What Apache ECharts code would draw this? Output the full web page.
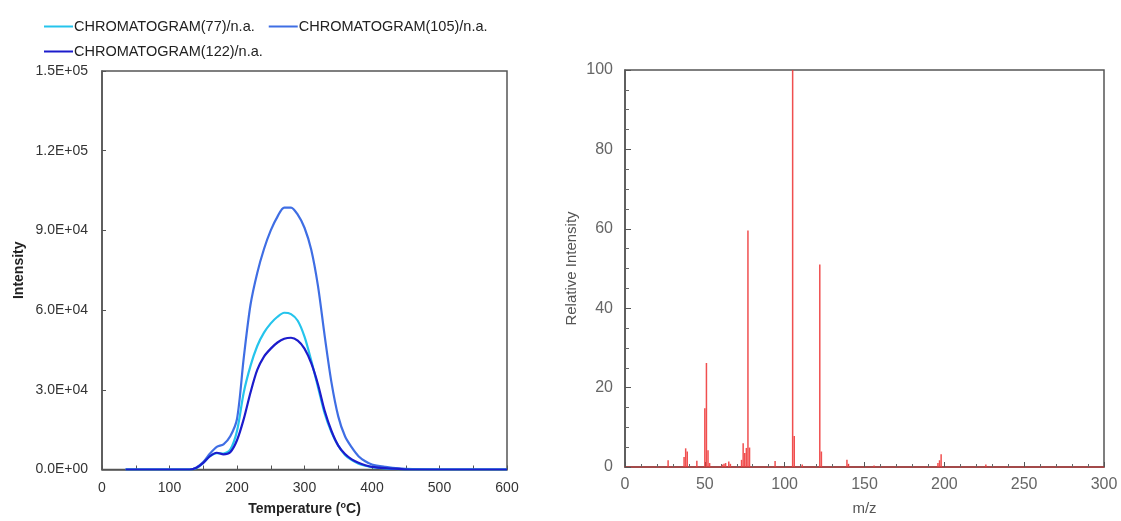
<!DOCTYPE html>
<html>
<head>
<meta charset="utf-8">
<script src="https://cdn.jsdelivr.net/npm/echarts@6/dist/echarts.min.js"></script>
<style>
  html, body { margin: 0; padding: 0; background: #fff; }
  #chart { width: 1121px; height: 521px; }
</style>
</head>
<body>
<div id="chart"></div>
<script>
// chromatogram (temperature in °C)
const temps = [35, 60, 100, 130, 140, 150, 160, 170, 180, 190, 200, 210, 220, 230, 240, 250, 260, 270, 280, 290, 300, 310, 320, 330, 340, 350, 360, 370, 380, 390, 400, 420, 440, 460, 500, 550, 600]
const chrom77 = [0, 0, 0, 0, 600, 2500, 5000, 6200, 6000, 7500, 14500, 29000, 39000, 46500, 51500, 55000, 57500, 59000, 58500, 56000, 50000, 41000, 31000, 21000, 14000, 9000, 5500, 3500, 2200, 1400, 900, 400, 150, 0, 0, 0, 0]
const chrom105 = [0, 0, 0, 0, 800, 2800, 6000, 8500, 9500, 12500, 19000, 42000, 62000, 74000, 83000, 90000, 95200, 98600, 98600, 95900, 91000, 82700, 69000, 50100, 32700, 20000, 12500, 8300, 5000, 3100, 1900, 1000, 400, 150, 0, 0, 0]
const chrom122 = [0, 0, 0, 0, 700, 2500, 5000, 6300, 5700, 6500, 11000, 19000, 29000, 37500, 42500, 45500, 47800, 49200, 49600, 48500, 45500, 40000, 32000, 22000, 14500, 9000, 5800, 3800, 2500, 1600, 1000, 500, 200, 0, 0, 0, 0]

// mass spectrum
const mzValues = [27, 37, 38, 39, 45, 50, 51, 52, 53, 61, 62, 63, 65, 66, 73, 74, 75, 76, 77, 78, 94, 105, 106, 111, 122, 123, 139, 140, 156, 196, 197, 198, 226]
const relIntensity = [1.7, 2.5, 4.7, 3.9, 1.6, 14.8, 26.2, 4.2, 1.0, 0.6, 0.8, 1.0, 1.4, 0.8, 1.8, 6.0, 3.5, 4.8, 59.6, 4.9, 1.5, 100, 7.8, 0.6, 51, 3.9, 1.8, 0.8, 0.4, 1.0, 1.7, 3.2, 0.6]

const seriesNames = ['CHROMATOGRAM(77)/n.a.', 'CHROMATOGRAM(105)/n.a.', 'CHROMATOGRAM(122)/n.a.']
const seriesColors = ['#25c4ec', '#3f6ee4', '#1c1ccc']

function sci(v) {
  const parts = v.toExponential(1).split('e')
  const exp = parts[1]
  return parts[0] + 'E' + exp[0] + exp.slice(1).padStart(2, '0')
}

const chart = echarts.init(document.getElementById('chart'))

const pair = (xs, ys) => xs.map((x, i) => [x, ys[i]])

const legendBase = {
  icon: 'rect',
  itemWidth: 29,
  itemHeight: 2,
  itemGap: 14,
  textStyle: { fontFamily: 'Liberation Sans', fontSize: 14.5, color: '#222', padding: [0, 0, 0, -4] }
}

const option = {
  backgroundColor: '#fff',
  animation: false,
  legend: [
    Object.assign({}, legendBase, { left: 39, top: 14, data: [seriesNames[0], seriesNames[1]] }),
    Object.assign({}, legendBase, { left: 39, top: 39, data: [seriesNames[2]] })
  ],
  grid: [
    { left: 102, right: 614, top: 71, bottom: 51, show: true, borderColor: '#555', borderWidth: 1.5 },
    { left: 625, right: 17, top: 70, bottom: 51, show: true, borderColor: '#555', borderWidth: 1.5 }
  ],
  xAxis: [
    {
      gridIndex: 0,
      type: 'value',
      min: 0,
      max: 600,
      interval: 100,
      name: 'Temperature ({sup|o}C)',
      nameLocation: 'middle',
      nameGap: 32,
      nameTextStyle: {
        fontFamily: 'Liberation Sans', fontSize: 14, fontWeight: 'bold', color: '#222',
        rich: { sup: { fontFamily: 'Liberation Sans', fontSize: 9, fontWeight: 'bold', color: '#222', verticalAlign: 'top', padding: [0, 0, 6, 0] } }
      },
      axisLine: { lineStyle: { color: '#555', width: 1.5 } },
      axisTick: { inside: true, length: 4, lineStyle: { color: '#555' } },
      minorTick: { show: true, splitNumber: 2, length: 4, lineStyle: { color: '#555' } },
      splitLine: { show: false },
      axisLabel: { fontFamily: 'Liberation Sans', fontSize: 14, color: '#333', margin: 12 }
    },
    {
      gridIndex: 1,
      type: 'value',
      min: 0,
      max: 300,
      interval: 50,
      name: 'm/z',
      nameLocation: 'middle',
      nameGap: 34,
      nameTextStyle: { fontFamily: 'Liberation Sans', fontSize: 15, color: '#555' },
      axisLine: { lineStyle: { color: '#b03a3a', width: 1.5 } },
      axisTick: { inside: true, length: 5, lineStyle: { color: '#555' } },
      minorTick: { show: true, splitNumber: 5, length: 3, lineStyle: { color: '#666' } },
      splitLine: { show: false },
      axisLabel: { fontFamily: 'Liberation Sans', fontSize: 16, color: '#666', margin: 10 }
    }
  ],
  yAxis: [
    {
      gridIndex: 0,
      type: 'value',
      min: 0,
      max: 150000,
      interval: 30000,
      name: 'Intensity',
      nameLocation: 'middle',
      nameGap: 76,
      nameTextStyle: { fontFamily: 'Liberation Sans', fontSize: 14, fontWeight: 'bold', color: '#222' },
      axisLine: { lineStyle: { color: '#555', width: 1.5 } },
      axisTick: { inside: true, length: 4, lineStyle: { color: '#555' } },
      splitLine: { show: false },
      axisLabel: { fontFamily: 'Liberation Sans', fontSize: 14, color: '#333', margin: 14, formatter: sci }
    },
    {
      gridIndex: 1,
      type: 'value',
      min: 0,
      max: 100,
      interval: 20,
      name: 'Relative Intensity',
      nameLocation: 'middle',
      nameGap: 46,
      nameTextStyle: { fontFamily: 'Liberation Sans', fontSize: 15, color: '#555' },
      axisLine: { lineStyle: { color: '#555', width: 1.5 } },
      axisTick: { inside: true, length: 6, lineStyle: { color: '#555' } },
      minorTick: { show: true, splitNumber: 4, length: 4, lineStyle: { color: '#666' } },
      splitLine: { show: false },
      axisLabel: { fontFamily: 'Liberation Sans', fontSize: 16, color: '#666', margin: 12 }
    }
  ],
  series: [
    {
      name: seriesNames[0], type: 'line', xAxisIndex: 0, yAxisIndex: 0,
      data: pair(temps, chrom77), smooth: 0.3, showSymbol: false, symbol: 'none',
      lineStyle: { color: seriesColors[0], width: 2.2 }, itemStyle: { color: seriesColors[0] }, z: 3
    },
    {
      name: seriesNames[1], type: 'line', xAxisIndex: 0, yAxisIndex: 0,
      data: pair(temps, chrom105), smooth: 0.3, showSymbol: false, symbol: 'none',
      lineStyle: { color: seriesColors[1], width: 2.2 }, itemStyle: { color: seriesColors[1] }, z: 2
    },
    {
      name: seriesNames[2], type: 'line', xAxisIndex: 0, yAxisIndex: 0,
      data: pair(temps, chrom122), smooth: 0.3, showSymbol: false, symbol: 'none',
      lineStyle: { color: seriesColors[2], width: 2.2 }, itemStyle: { color: seriesColors[2] }, z: 4
    },
    {
      name: 'spectrum', type: 'bar', xAxisIndex: 1, yAxisIndex: 1,
      data: pair(mzValues, relIntensity), barWidth: 1.5,
      itemStyle: { color: 'rgba(238, 60, 60, 0.9)' }
    }
  ]
}

chart.setOption(option)
</script>
</body>
</html>
